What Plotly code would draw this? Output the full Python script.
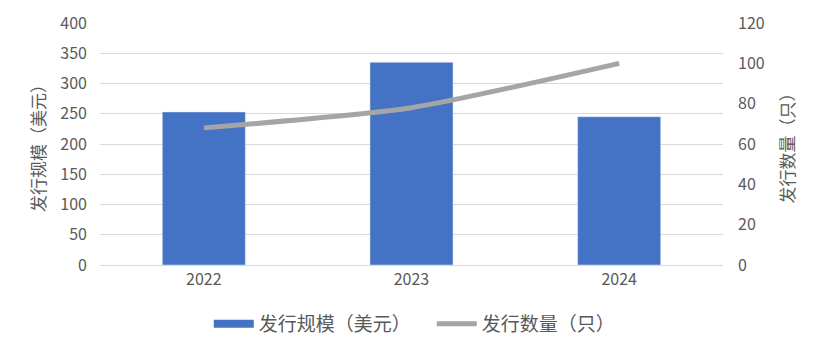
import plotly.graph_objects as go

years = ["2022", "2023", "2024"]
issue_size = [253, 335, 245]
issue_count = [68, 78, 100]

bar_name = "发行规模（美元）"
line_name = "发行数量（只）"
font_family = "Noto Sans CJK SC, Microsoft YaHei, sans-serif"
tick_color = "#595959"

fig = go.Figure()
fig.add_trace(go.Bar(x=years, y=issue_size, name=bar_name, marker_color="#4472C4",
                     showlegend=False, yaxis="y"))
# legend-only entry drawn as a line swatch
fig.add_trace(go.Scatter(x=[None], y=[None], mode="lines", name=bar_name,
                         line=dict(color="#4472C4", width=8), showlegend=True))
fig.add_trace(go.Scatter(x=years, y=issue_count, name=line_name, mode="lines",
                         line=dict(color="#A5A5A5", width=5, shape="spline", smoothing=0.6),
                         yaxis="y2"))

fig.update_layout(
    width=824, height=351,
    margin=dict(l=100, r=101, t=23, b=86, autoexpand=False),
    paper_bgcolor="white", plot_bgcolor="white",
    font=dict(family=font_family, size=16, color=tick_color),
    bargap=0.6,
    xaxis=dict(showgrid=False, showline=True, linecolor="#D9D9D9", ticks="",
               tickfont=dict(size=16, color=tick_color)),
    yaxis=dict(range=[0, 400], dtick=50, showgrid=True, gridcolor="#D9D9D9",
               zeroline=False, ticks="", tickfont=dict(size=16, color=tick_color),
               ticklabelstandoff=12,
               title=dict(text="发行规模（美元）", font=dict(size=17, color=tick_color), standoff=10)),
    yaxis2=dict(range=[0, 120], dtick=20, overlaying="y", side="right", showgrid=False,
                zeroline=False, ticks="", tickfont=dict(size=16, color=tick_color),
                ticklabelstandoff=14,
                title=dict(text="发行数量（只）", font=dict(size=17, color=tick_color), standoff=18)),
    legend=dict(orientation="h", x=0.524, xanchor="center", xref="container",
                y=0.077, yanchor="middle", yref="container",
                font=dict(size=19, color=tick_color), traceorder="normal",
                itemwidth=40, tracegroupgap=0, entrywidth=168),
)

fig.write_html("out.html")
